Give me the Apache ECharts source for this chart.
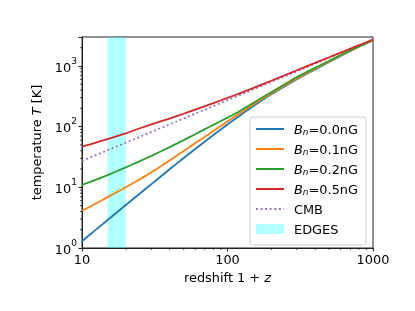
<!DOCTYPE html>
<html>
<head>
<meta charset="utf-8">
<script src="https://cdn.jsdelivr.net/npm/echarts@6/dist/echarts.min.js"></script>
<style>html,body{margin:0;padding:0;background:#fff}#c{width:415px;height:311px}</style>
</head>
<body>
<div id="c"></div>
<script>
// redshift 1+z sample points
const redshift = [10,12,15,20,25,30,40,50,60,70,80,100,120,150,200,250,300,400,500,600,700,800,1000];
// gas temperature [K] for each magnetic field strength
const tB00 = [1.29,1.86,2.89,5.11,7.91,11.3,19.8,30.4,42.7,57.0,72.8,108.5,148.7,216,341,470,605,875,1165,1463,1764,2071,2657];
const tB01 = [4.1,5.15,6.9,10.0,13.6,17.7,27.7,39.8,53.2,68,84.5,122,163,231,352,484,621,899,1188,1483,1782,2084,2665];
const tB02 = [11,12.9,15.9,21.3,27,33,46,60,75,91,107,141,178,245,370,508,654,932,1219,1512,1808,2104,2676];
const tB05 = [47,53,62.5,77.4,94,109,136,163,191,217,244,298,350,432,570,710,850,1123,1392,1661,1929,2195,2725];
const tCMB = [27.25,32.7,40.9,54.5,68.1,81.8,109,136,164,191,218,272.5,327,409,545,681,818,1090,1363,1635,1908,2180,2725];
// EDGES band in 1+z
const edgesBand = [15, 20];
// axis ranges and minor ticks
const xRange = [10, 1000];
const yRange = [1, 3000];
const xMinorTicks = [20,30,40,50,60,70,80,90,200,300,400,500,600,700,800,900];
const yMinorTicks = [2,3,4,5,6,7,8,9,20,30,40,50,60,70,80,90,200,300,400,500,600,700,800,900,2000];
const seriesNames = ['Bn=0.0nG','Bn=0.1nG','Bn=0.2nG','Bn=0.5nG','CMB','EDGES'];
const legendLabels = {'Bn=0.0nG':'0.0nG','Bn=0.1nG':'0.1nG','Bn=0.2nG':'0.2nG','Bn=0.5nG':'0.5nG'};

const FONT = 'DejaVu Sans';
const FS = 12.9;
const pairs = (ys) => redshift.map((x, i) => [x, ys[i]]);
const EDGE_COLOR = 'rgba(0,255,255,0.3)';

const chart = echarts.init(document.getElementById('c'), null, {renderer: 'canvas'});
const lineSeries = (name, data, color, extra) => Object.assign({
  name: name, type: 'line', data: pairs(data), symbol: 'none', smooth: 0.2,
  lineStyle: {color: color, width: 1.8}, itemStyle: {color: color}, z: 5
}, extra || {});
const hiddenSym = {color: 'transparent', borderWidth: 0, opacity: 0};

const option = {
  animation: false,
  backgroundColor: '#fff',
  textStyle: {fontFamily: FONT},
  grid: {left: 82, right: 42, top: 37, bottom: 63, show: true, borderColor: '#222', borderWidth: 1, backgroundColor: 'transparent'},
  xAxis: {
    type: 'log', logBase: 10, min: xRange[0], max: xRange[1],
    name: 'redshift 1 + {it|z}', nameLocation: 'middle', nameGap: 24,
    nameTextStyle: {fontFamily: FONT, fontSize: FS, color: '#000', rich: {it: {fontFamily: FONT, fontSize: FS, fontStyle: 'italic', color: '#000'}}},
    axisLine: {show: true, lineStyle: {color: '#222', width: 1}},
    axisTick: {show: true, length: 3.5, lineStyle: {color: '#222', width: 1}},
    axisLabel: {fontFamily: FONT, fontSize: FS, color: '#000', margin: 6,
      formatter: (v) => { const k = Math.round(Math.log10(v)); return Math.abs(Math.log10(v) - k) < 1e-6 ? String(Math.round(v)) : ''; }},
    splitLine: {show: false}
  },
  yAxis: {
    type: 'log', logBase: 10, min: yRange[0], max: yRange[1],
    name: 'temperature {it|T} [K]', nameLocation: 'middle', nameGap: 27, nameRotate: 90,
    nameTextStyle: {fontFamily: FONT, fontSize: FS, color: '#000', rich: {it: {fontFamily: FONT, fontSize: FS, fontStyle: 'italic', color: '#000'}}},
    axisLine: {show: true, lineStyle: {color: '#222', width: 1}},
    axisTick: {show: true, length: 3.5, lineStyle: {color: '#222', width: 1}},
    axisLabel: {fontFamily: FONT, fontSize: FS, color: '#000', margin: 5,
      formatter: (v) => { const l = Math.log10(v); const k = Math.round(l); return Math.abs(l - k) < 1e-6 ? '{b|10}{s|' + k + '}' : ''; },
      rich: {b: {fontFamily: FONT, fontSize: FS, color: '#000', lineHeight: 18, verticalAlign: 'bottom'},
             s: {fontFamily: FONT, fontSize: 9, color: '#000', lineHeight: 18, verticalAlign: 'top'}}},
    splitLine: {show: false}
  },
  legend: {
    orient: 'vertical', left: 250, top: 117,
    data: [
      {name: seriesNames[0], itemStyle: hiddenSym}, {name: seriesNames[1], itemStyle: hiddenSym},
      {name: seriesNames[2], itemStyle: hiddenSym}, {name: seriesNames[3], itemStyle: hiddenSym},
      {name: seriesNames[4], itemStyle: hiddenSym},
      {name: seriesNames[5], icon: 'rect', itemStyle: {color: EDGE_COLOR, opacity: 1, borderWidth: 0}}
    ],
    itemWidth: 28, itemHeight: 10, itemGap: 7,
    padding: [7, 8, 8, 5],
    borderColor: '#cccccc', borderWidth: 1, borderRadius: 3, backgroundColor: 'rgba(255,255,255,0.8)',
    textStyle: {fontFamily: FONT, fontSize: FS, color: '#000', padding: [0, 0, 0, 5],
      rich: {i: {fontFamily: FONT, fontSize: FS, fontStyle: 'italic', color: '#000', lineHeight: 16, verticalAlign: 'bottom'},
             sub: {fontFamily: FONT, fontSize: 9, fontStyle: 'italic', color: '#000', lineHeight: 16, verticalAlign: 'bottom'},
             t: {fontFamily: FONT, fontSize: FS, color: '#000', lineHeight: 16, verticalAlign: 'bottom'}}},
    formatter: (name) => legendLabels[name] ? '{i|B}{sub|n}{t|=' + legendLabels[name] + '}' : '{t|' + name + '}'
  },
  series: [
    lineSeries(seriesNames[0], tB00, '#1f77b4'),
    lineSeries(seriesNames[1], tB01, '#ff7f0e'),
    lineSeries(seriesNames[2], tB02, '#2ca02c'),
    lineSeries(seriesNames[3], tB05, '#d62728'),
    lineSeries(seriesNames[4], tCMB, '#9467bd', {smooth: false, lineStyle: {color: '#9467bd', width: 1.8, type: [1.8, 2.8], cap: 'butt'}, z: 4}),
    {
      name: seriesNames[5], type: 'line', data: [], symbol: 'none',
      itemStyle: {color: EDGE_COLOR}, lineStyle: {width: 0},
      markArea: {silent: true, itemStyle: {color: EDGE_COLOR},
        data: [[{xAxis: edgesBand[0]}, {xAxis: edgesBand[1]}]]}, z: 1
    },
    {
      type: 'custom', silent: true, clip: false, z: 6,
      data: xMinorTicks.map(v => [v, yRange[0]]),
      renderItem: (params, api) => {
        const p = api.coord([api.value(0), api.value(1)]);
        return {type: 'line', shape: {x1: p[0], y1: p[1], x2: p[0], y2: p[1] + 2}, style: {stroke: '#222', lineWidth: 0.8}};
      }
    },
    {
      type: 'custom', silent: true, clip: false, z: 6,
      data: yMinorTicks.map(v => [xRange[0], v]),
      renderItem: (params, api) => {
        const p = api.coord([api.value(0), api.value(1)]);
        return {type: 'line', shape: {x1: p[0], y1: p[1], x2: p[0] - 2, y2: p[1]}, style: {stroke: '#222', lineWidth: 0.8}};
      }
    }
  ]
};
chart.setOption(option);
</script>
</body>
</html>
